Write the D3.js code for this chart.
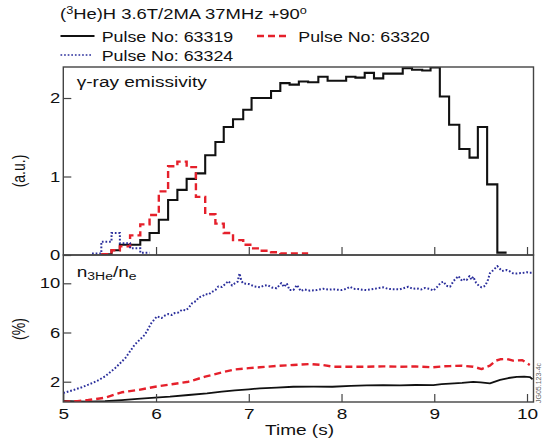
<!DOCTYPE html>
<html>
<head>
<meta charset="utf-8">
<script src="https://cdnjs.cloudflare.com/ajax/libs/d3/7.8.5/d3.min.js"></script>
<style>
  body { margin: 0; background: #fff; }
  svg { display: block; font-family: "Liberation Sans", Arial, sans-serif; }
</style>
</head>
<body>
<svg id="chart" width="543" height="439"></svg>
<script>
// gamma-ray emissivity histograms: bin edges (s) and values per bin (a.u.)
var binEdges = [5.31, 5.41, 5.52, 5.61, 5.72, 5.83, 5.93, 6.03, 6.13, 6.23,
  6.33, 6.43, 6.53, 6.64, 6.73, 6.83, 6.94, 7.03, 7.14, 7.24, 7.34, 7.44,
  7.54, 7.64, 7.75, 7.85, 7.95, 8.05, 8.15, 8.25, 8.35, 8.45, 8.56, 8.66,
  8.76, 8.87, 8.96, 9.06, 9.16, 9.27, 9.38, 9.47, 9.57, 9.68, 9.78];

// first bin index for each pulse
var emisFirstBin = [1, 1, 0];

var emis63319 = [0.01, 0.06, 0.13, 0.13, 0.19, 0.28, 0.45, 0.70, 0.83, 0.97,
  1.04, 1.27, 1.44, 1.63, 1.73, 1.85, 2.00, 2.00, 2.09, 2.19, 2.17, 2.21,
  2.20, 2.27, 2.22, 2.22, 2.27, 2.26, 2.32, 2.25, 2.31, 2.31, 2.38, 2.36,
  2.35, 2.39, 2.02, 1.66, 1.35, 1.24, 1.63, 0.90, 0.03];

var emis63320 = [0.01, 0.06, 0.11, 0.25, 0.39, 0.51, 0.81, 1.13, 1.19, 1.12,
  0.74, 0.52, 0.40, 0.28, 0.19, 0.13, 0.085, 0.055, 0.035, 0.02, 0.02, 0.02];

var emis63324 = [0.02, 0.17, 0.28, 0.15, 0.085, 0.03];

// n3He/ne traces, [time (s), ratio (%)]
var ratio63319 = [[5.00, 0.43], [5.15, 0.40], [5.27, 0.37], [5.45, 0.42],
  [5.63, 0.51], [5.80, 0.60], [5.99, 0.70], [6.15, 0.78], [6.35, 0.92],
  [6.55, 1.05], [6.71, 1.19], [6.85, 1.30], [7.00, 1.38], [7.12, 1.46],
  [7.30, 1.52], [7.48, 1.59], [7.70, 1.60], [7.90, 1.59], [8.10, 1.66],
  [8.27, 1.70], [8.45, 1.72], [8.63, 1.70], [8.80, 1.73], [8.99, 1.72],
  [9.08, 1.80], [9.17, 1.85], [9.30, 1.90], [9.42, 1.98], [9.50, 1.95],
  [9.60, 1.87], [9.71, 2.15], [9.80, 2.30], [9.89, 2.40], [9.97, 2.42],
  [10.03, 2.38], [10.06, 2.20]];

var ratio63320 = [[5.00, 0.37], [5.15, 0.42], [5.27, 0.51], [5.45, 0.70],
  [5.63, 1.14], [5.81, 1.33], [5.99, 1.59], [6.17, 1.79], [6.35, 2.00],
  [6.53, 2.41], [6.71, 2.76], [6.85, 3.00], [7.00, 3.10], [7.12, 3.17],
  [7.30, 3.28], [7.48, 3.36], [7.66, 3.44], [7.80, 3.35], [7.91, 3.22],
  [8.10, 3.22], [8.27, 3.22], [8.45, 3.25], [8.63, 3.22], [8.80, 3.24],
  [8.99, 3.17], [9.10, 3.25], [9.17, 3.27], [9.30, 3.30], [9.42, 3.22],
  [9.51, 3.03], [9.60, 3.30], [9.66, 3.70], [9.71, 3.82], [9.78, 3.85],
  [9.85, 3.71], [9.95, 3.75], [10.03, 3.36]];

var ratio63324 = [[5.00, 1.08], [5.10, 1.30], [5.20, 1.55], [5.27, 1.76],
  [5.36, 2.05], [5.45, 2.43], [5.56, 3.11], [5.67, 3.93], [5.77, 5.01],
  [5.88, 5.82], [5.95, 6.77], [6.01, 7.31], [6.06, 7.18], [6.10, 7.40],
  [6.13, 7.50], [6.17, 7.42], [6.20, 7.58], [6.24, 7.62], [6.28, 7.85],
  [6.32, 7.80], [6.35, 7.99], [6.39, 8.39], [6.43, 8.55], [6.46, 8.85],
  [6.50, 8.95], [6.53, 9.12], [6.57, 9.10], [6.60, 9.29], [6.64, 9.45],
  [6.67, 9.74], [6.71, 9.70], [6.74, 9.90], [6.78, 10.18], [6.82, 9.82],
  [6.85, 10.00], [6.88, 10.13], [6.90, 10.81], [6.92, 10.20], [6.94, 9.99],
  [7.00, 9.94], [7.06, 9.75], [7.12, 9.67], [7.16, 9.80], [7.20, 9.86],
  [7.25, 9.65], [7.30, 9.59], [7.35, 10.02], [7.38, 9.70], [7.41, 9.99],
  [7.44, 9.45], [7.48, 9.45], [7.52, 9.86], [7.56, 9.37], [7.60, 9.50],
  [7.66, 9.40], [7.73, 9.45], [7.80, 9.55], [7.86, 9.48], [7.91, 9.51],
  [8.00, 9.45], [8.05, 9.55], [8.09, 9.72], [8.13, 9.55], [8.18, 9.53],
  [8.22, 9.48], [8.27, 9.45], [8.35, 9.55], [8.45, 9.67], [8.50, 9.55],
  [8.55, 9.52], [8.63, 9.51], [8.72, 9.72], [8.77, 9.55], [8.81, 9.59],
  [8.86, 9.50], [8.90, 9.62], [8.95, 9.55], [8.99, 9.40], [9.03, 9.70],
  [9.07, 10.05], [9.10, 10.13], [9.13, 9.80], [9.17, 9.72], [9.21, 10.20],
  [9.26, 10.59], [9.30, 10.19], [9.33, 10.35], [9.35, 10.27], [9.38, 10.59],
  [9.40, 10.30], [9.42, 10.54], [9.45, 10.05], [9.48, 9.80], [9.51, 9.67],
  [9.55, 9.80], [9.58, 10.30], [9.60, 10.81], [9.64, 11.10], [9.68, 11.40],
  [9.73, 11.00], [9.78, 11.08], [9.82, 10.95], [9.85, 10.81], [9.89, 10.80],
  [9.95, 10.84], [10.00, 10.90], [10.03, 10.86], [10.06, 10.86]];

var pulseNames = ["Pulse No: 63319", "Pulse No: 63320", "Pulse No: 63324"];
var timeTicks = [5, 6, 7, 8, 9, 10];
var emisTicks = [0, 1, 2];
var ratioTicks = [2, 6, 10];

// the original figure is stretched sideways, so texts get a horizontal scale
var stretch = 1.27,
    left = 63.3, right = 533.5,
    topY0 = 67, topY1 = 255,
    botY0 = 255, botY1 = 402,
    frameColor = "#444";

var styles = [
  { color: "#111", width: 2.1, dash: null },
  { color: "#e5202b", width: 2.4, dash: "7,4" },
  { color: "#2b2f9c", width: 2, dash: "1.7,1.9" }
];

var svg = d3.select("#chart");

var x = d3.scaleLinear().domain([5, 10.07]).range([left, right]);
var yTop = d3.scaleLinear().domain([0, 2.395]).range([topY1, topY0]);
var yBot = d3.scaleLinear().domain([0.35, 12.3]).range([botY1, botY0]);

function stretched(g, px, py, str, size) {
  return g.append("text")
      .attr("transform", "translate(" + px + "," + py + ") scale(" + stretch + ",1)")
      .attr("font-size", size)
      .attr("fill", "#111")
      .text(str);
}

// clip regions
var defs = svg.append("defs");
defs.append("clipPath").attr("id", "clipTop").append("rect")
    .attr("x", left).attr("y", topY0)
    .attr("width", right - left).attr("height", topY1 - topY0);
defs.append("clipPath").attr("id", "clipBot").append("rect")
    .attr("x", left).attr("y", botY0)
    .attr("width", right - left).attr("height", botY1 - botY0);

// top panel: step histograms
var stepLine = d3.line()
    .x(function(d) { return x(d[0]); })
    .y(function(d) { return yTop(d[1]); })
    .curve(d3.curveStepAfter);

function histPoints(vals, first) {
  var pts = vals.map(function(v, i) { return [binEdges[first + i], v]; });
  pts.push([binEdges[first + vals.length], vals[vals.length - 1]]);
  return pts;
}

var emisSeries = [emis63319, emis63320, emis63324];
var gTop = svg.append("g").attr("clip-path", "url(#clipTop)");
emisSeries.forEach(function(vals, i) {
  gTop.append("path")
      .attr("d", stepLine(histPoints(vals, emisFirstBin[i])))
      .attr("fill", "none")
      .attr("stroke", styles[i].color)
      .attr("stroke-width", styles[i].width)
      .attr("stroke-dasharray", styles[i].dash)
      .attr("stroke-linejoin", "miter");
});

// bottom panel: density ratio traces
var traceLine = d3.line()
    .x(function(d) { return x(d[0]); })
    .y(function(d) { return yBot(d[1]); });

var ratioSeries = [ratio63319, ratio63320, ratio63324];
var gBot = svg.append("g").attr("clip-path", "url(#clipBot)");
ratioSeries.forEach(function(pts, i) {
  gBot.append("path")
      .attr("d", traceLine(pts))
      .attr("fill", "none")
      .attr("stroke", styles[i].color)
      .attr("stroke-width", i == 0 ? 1.8 : styles[i].width)
      .attr("stroke-dasharray", styles[i].dash)
      .attr("stroke-linejoin", "round");
});

// axes, ticks pointing inwards
var intFormat = d3.format("d");

function tidy(g, size) {
  g.attr("font-size", null).attr("font-family", null);
  g.select(".domain").remove();
  g.selectAll(".tick line").attr("stroke", frameColor).attr("stroke-width", 1.2);
  g.selectAll(".tick text")
      .attr("font-size", size)
      .attr("fill", "#111")
      .attr("transform", "scale(" + stretch + ",1)");
}

svg.append("g")
    .attr("transform", "translate(" + left + ",0)")
    .call(d3.axisLeft(yTop).tickValues(emisTicks).tickFormat(intFormat)
      .tickSize(-8).tickPadding(2.4))
    .call(tidy, 14.5);

svg.append("g")
    .attr("transform", "translate(" + left + ",0)")
    .call(d3.axisLeft(yBot).tickValues(ratioTicks).tickFormat(intFormat)
      .tickSize(-8).tickPadding(2.4))
    .call(tidy, 14.5);

svg.append("g")
    .attr("transform", "translate(0," + topY1 + ")")
    .call(d3.axisBottom(x).tickValues(timeTicks.slice(1)).tickSize(-8).tickFormat(""))
    .call(tidy, 14.5);

svg.append("g")
    .attr("transform", "translate(0," + botY1 + ")")
    .call(d3.axisBottom(x).tickValues(timeTicks).tickFormat(intFormat)
      .tickSize(-8).tickPadding(6.3))
    .call(tidy, 15);

// panel frames
[[topY0, topY1], [botY0, botY1]].forEach(function(p) {
  svg.append("rect")
      .attr("x", left).attr("y", p[0])
      .attr("width", right - left).attr("height", p[1] - p[0])
      .attr("fill", "none")
      .attr("stroke", frameColor)
      .attr("stroke-width", 1.4);
});

// axis titles
svg.append("text")
    .attr("transform", "translate(25,171) rotate(-90) scale(1," + stretch + ")")
    .attr("text-anchor", "middle")
    .attr("font-size", 14)
    .attr("fill", "#111")
    .text("(a.u.)");

svg.append("text")
    .attr("transform", "translate(25,329) rotate(-90) scale(1," + stretch + ")")
    .attr("text-anchor", "middle")
    .attr("font-size", 14)
    .attr("fill", "#111")
    .text("(%)");

stretched(svg, 265, 435, "Time (s)", 15);

// panel labels
stretched(svg, 76.7, 87, "\u03b3-ray emissivity", 15);

var nLabel = stretched(svg, 76.7, 276.5, "", 15);
nLabel.append("tspan").text("n");
nLabel.append("tspan").attr("font-size", 11).attr("dy", 3).text("3He");
nLabel.append("tspan").attr("dy", -3).text("/n");
nLabel.append("tspan").attr("font-size", 11).attr("dy", 3).text("e");

// title
var title = stretched(svg, 60, 18.7, "", 14.5);
title.append("tspan").text("(");
title.append("tspan").attr("font-size", 10).attr("dy", -5).text("3");
title.append("tspan").attr("dy", 5).text("He)H 3.6T/2MA 37MHz +90");
title.append("tspan").attr("font-size", 10).attr("dy", -5).text("o");

// legend
var legendPos = [
  { x1: 60.5, x2: 94.5, y: 36, tx: 101.7, ty: 41.7 },
  { x1: 257, x2: 290, y: 36, tx: 298.3, ty: 41.7 },
  { x1: 60.5, x2: 92, y: 55, tx: 101.7, ty: 60.5 }
];
legendPos.forEach(function(p, i) {
  svg.append("line")
      .attr("x1", p.x1).attr("x2", p.x2)
      .attr("y1", p.y).attr("y2", p.y)
      .attr("stroke", styles[i].color)
      .attr("stroke-width", i == 2 ? 1.6 : styles[i].width)
      .attr("stroke-dasharray", styles[i].dash);
  stretched(svg, p.tx, p.ty, pulseNames[i], 14);
});

// figure reference
svg.append("text")
    .attr("transform", "translate(541,403) rotate(-90)")
    .attr("font-size", 7)
    .attr("fill", "#666")
    .text("JG05.123-4c");
</script>
</body>
</html>
